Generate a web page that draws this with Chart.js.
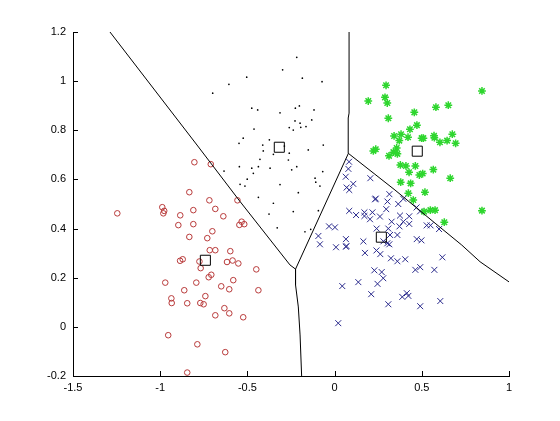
<!DOCTYPE html>
<html>
<head>
<meta charset="utf-8">
<script src="https://cdn.jsdelivr.net/npm/chart.js@4"></script>
<style>
html,body{margin:0;padding:0;background:#fff;}
#wrap{width:560px;height:421px;}
</style>
</head>
<body>
<div id="wrap"><canvas id="c" width="560" height="421"></canvas></div>
<script>
const xTicks = [-1.5,-1,-0.5,0,0.5,1];
const xTickLabels = ['-1.5','-1','-0.5','0','0.5','1'];
const yTicks = [-0.2,0,0.2,0.4,0.6,0.8,1,1.2];
const yTickLabels = ['-0.2','0','0.2','0.4','0.6','0.8','1','1.2'];

const redX = [-0.804,-0.710,-0.833,-0.718,-0.988,-0.977,-0.982,-1.246,-0.810,-0.684,-0.885,-0.638,-0.557,-0.896,-0.810,-0.533,-0.546,-0.518,-0.701,-0.833,-0.730,-0.716,-0.684,-0.598,-0.886,-0.871,-0.775,-0.617,-0.585,-0.552,-0.449,-0.768,-0.707,-0.722,-0.971,-0.793,-0.581,-0.650,-0.604,-0.862,-0.437,-0.741,-0.936,-0.934,-0.845,-0.770,-0.751,-0.632,-0.604,-0.684,-0.524,-0.954,-0.787,-0.627,-0.845];
const redY = [0.670,0.662,0.548,0.515,0.487,0.472,0.462,0.462,0.475,0.480,0.454,0.450,0.515,0.414,0.418,0.428,0.415,0.418,0.389,0.366,0.361,0.312,0.312,0.308,0.269,0.275,0.266,0.264,0.270,0.258,0.234,0.239,0.212,0.202,0.180,0.180,0.190,0.165,0.153,0.149,0.149,0.125,0.116,0.097,0.096,0.097,0.092,0.076,0.055,0.047,0.039,-0.034,-0.071,-0.103,-0.186];

const blackX = [-0.217,-0.298,-0.504,-0.185,-0.606,-0.072,-0.699,-0.475,-0.441,-0.225,-0.202,-0.118,-0.313,-0.131,-0.227,-0.198,-0.164,-0.194,-0.260,-0.237,-0.462,-0.524,-0.548,-0.374,-0.412,-0.288,-0.409,-0.351,-0.260,-0.151,-0.065,-0.428,-0.265,-0.546,-0.475,-0.437,-0.370,-0.217,-0.246,-0.466,-0.501,-0.068,-0.112,-0.542,-0.514,-0.313,-0.084,-0.208,-0.437,-0.351,-0.376,-0.237,-0.329,-0.170,-0.137,-0.634,-0.108,-0.093];
const blackY = [1.097,1.046,1.016,1.012,0.987,0.998,0.951,0.890,0.883,0.890,0.899,0.883,0.871,0.842,0.838,0.829,0.815,0.812,0.811,0.801,0.805,0.768,0.747,0.761,0.740,0.736,0.716,0.702,0.707,0.720,0.740,0.682,0.679,0.652,0.646,0.652,0.646,0.652,0.639,0.625,0.601,0.632,0.605,0.580,0.573,0.579,0.573,0.546,0.527,0.503,0.459,0.469,0.403,0.387,0.397,0.634,0.589,0.473];

const greenX = [0.295,0.845,0.193,0.289,0.302,0.581,0.652,0.457,0.308,0.472,0.432,0.675,0.341,0.381,0.421,0.499,0.509,0.570,0.572,0.371,0.604,0.645,0.694,0.356,0.222,0.236,0.337,0.360,0.312,0.377,0.409,0.463,0.566,0.427,0.486,0.505,0.663,0.379,0.436,0.518,0.423,0.451,0.513,0.549,0.576,0.845,0.629];
const greenY = [0.983,0.960,0.919,0.934,0.911,0.894,0.902,0.873,0.849,0.821,0.804,0.784,0.777,0.784,0.772,0.768,0.768,0.778,0.770,0.758,0.751,0.758,0.747,0.728,0.716,0.723,0.711,0.704,0.696,0.659,0.655,0.655,0.640,0.629,0.618,0.624,0.605,0.589,0.584,0.548,0.544,0.516,0.469,0.475,0.475,0.473,0.426];

const blueX = [0.083,0.079,0.064,0.205,0.107,0.084,0.069,0.314,0.232,0.303,0.365,0.394,0.084,0.123,0.171,0.171,0.217,0.203,0.260,0.296,0.375,0.428,0.470,0.490,0.394,0.428,0.372,0.327,-0.032,0.002,0.241,0.308,0.528,0.550,0.599,0.318,0.360,-0.093,0.065,0.165,0.280,0.302,0.314,0.471,0.498,-0.084,0.008,0.065,0.174,0.240,0.262,0.323,0.360,0.405,0.618,0.228,0.270,0.279,0.246,0.463,0.491,0.572,0.136,0.044,0.210,0.308,0.388,0.414,0.423,0.491,0.606,0.021,0.236,0.068];
const blueY = [0.672,0.643,0.611,0.605,0.582,0.557,0.567,0.540,0.519,0.510,0.500,0.521,0.472,0.455,0.466,0.451,0.466,0.438,0.449,0.479,0.453,0.450,0.486,0.470,0.428,0.419,0.409,0.428,0.409,0.405,0.400,0.400,0.413,0.413,0.398,0.374,0.374,0.370,0.357,0.348,0.348,0.340,0.336,0.357,0.352,0.336,0.324,0.326,0.301,0.311,0.296,0.279,0.267,0.275,0.283,0.230,0.223,0.198,0.175,0.232,0.243,0.232,0.182,0.166,0.133,0.092,0.122,0.137,0.126,0.084,0.105,0.015,0.522,0.329];

const centX = [-0.317,0.474,-0.741,0.268];
const centY = [0.731,0.715,0.271,0.365];

const bound1X = [-1.288,-0.789,-0.542,-0.256,-0.224,-0.224,-0.208,-0.198,-0.189];
const bound1Y = [1.2,0.740,0.510,0.252,0.235,0.171,0.081,-0.033,-0.2];
const bound2X = [-0.224,0.079,0.078,0.083,0.083];
const bound2Y = [0.235,0.706,0.85,0.87,1.2];
const bound3X = [0.079,0.346,0.576,0.729,0.834,1.0];
const bound3Y = [0.706,0.557,0.422,0.333,0.265,0.183];

const pts = (xs, ys) => xs.map((x, i) => ({x: x, y: ys[i]}));

const lineDs = (xs, ys) => ({
  type: 'line', data: pts(xs, ys), showLine: true, borderColor: '#000', borderWidth: 1,
  pointRadius: 0, fill: false, tension: 0, order: 0
});

const inwardTicks = {
  id: 'inwardTicks',
  afterDraw(chart) {
    const ctx = chart.ctx, xs = chart.scales.x, ys = chart.scales.y, a = chart.chartArea;
    ctx.save();
    ctx.strokeStyle = '#000';
    ctx.lineWidth = 1;
    ctx.beginPath();
    xTicks.forEach(v => {
      const p = Math.round(xs.getPixelForValue(v)) + 0.5;
      ctx.moveTo(p, a.bottom); ctx.lineTo(p, a.bottom - 5);
    });
    yTicks.forEach(v => {
      const p = Math.round(ys.getPixelForValue(v)) + 0.5;
      ctx.moveTo(a.left, p); ctx.lineTo(a.left + 5, p);
    });
    ctx.stroke();
    ctx.restore();
  }
};

const font = {family: '"Liberation Sans", Arial, Helvetica, sans-serif', size: 11};

new Chart(document.getElementById('c'), {
  type: 'scatter',
  data: {
    datasets: [
      {data: pts(redX, redY), pointStyle: 'circle', pointRadius: 2.8, borderColor: '#b83a3a', backgroundColor: 'rgba(0,0,0,0)', borderWidth: 1, order: 2},
      {data: pts(blackX, blackY), pointStyle: 'circle', pointRadius: 0.85, borderColor: '#000', backgroundColor: '#000', borderWidth: 0, order: 2},
      {data: pts(greenX, greenY), pointStyle: 'star', pointRadius: 3.9, borderColor: '#2ed62e', backgroundColor: '#2ed62e', borderWidth: 1.5, order: 2},
      {data: pts(blueX, blueY), pointStyle: 'crossRot', pointRadius: 4.2, borderColor: '#2a2a8c', backgroundColor: '#2a2a8c', borderWidth: 1, order: 2},
      {data: pts(centX, centY), pointStyle: 'rect', pointRadius: 7.1, borderColor: '#000', backgroundColor: 'rgba(0,0,0,0)', borderWidth: 1, order: 1},
      lineDs(bound1X, bound1Y),
      lineDs(bound2X, bound2Y),
      lineDs(bound3X, bound3Y)
    ]
  },
  options: {
    responsive: false,
    animation: false,
    devicePixelRatio: 1,
    layout: {padding: {left: 0, top: 32, right: 51, bottom: 25}},
    plugins: {legend: {display: false}, tooltip: {enabled: false}},
    elements: {point: {hoverRadius: 0}},
    scales: {
      x: {
        type: 'linear', min: -1.5, max: 1,
        afterBuildTicks: s => { s.ticks = xTicks.map(v => ({value: v})); },
        afterFit: s => { s.height = 20; },
        grid: {display: true, drawOnChartArea: false, drawTicks: false},
        border: {display: true, color: '#000', width: 1},
        ticks: {color: '#000', font: font, padding: 5, maxRotation: 0, autoSkip: false,
          callback: (v, i) => xTickLabels[i]}
      },
      y: {
        type: 'linear', min: -0.2, max: 1.2,
        afterBuildTicks: s => { s.ticks = yTicks.map(v => ({value: v})); },
        afterFit: s => { s.width = 73; },
        grid: {display: true, drawOnChartArea: false, drawTicks: false},
        border: {display: true, color: '#000', width: 1},
        ticks: {color: '#000', font: font, padding: 7, autoSkip: false,
          callback: (v, i) => yTickLabels[i]}
      }
    }
  },
  plugins: [inwardTicks]
});
</script>
</body>
</html>
